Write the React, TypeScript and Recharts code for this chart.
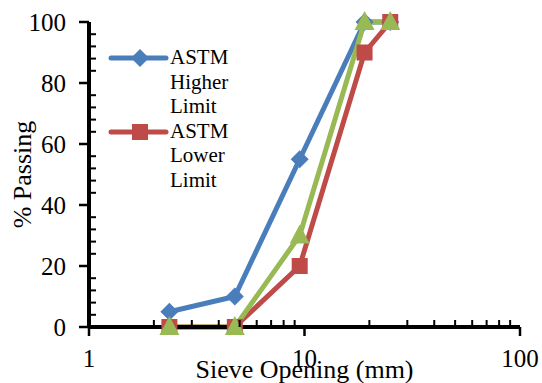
import { LineChart, Line, XAxis, YAxis, Legend } from "recharts";

const FONT = '"Liberation Serif", "Times New Roman", serif';

// sieve sizes (mm) and % passing
const sieveSizes = [2.36, 4.75, 9.5, 19, 25];
const higherLimit = [5, 10, 55, 100, 100];
const lowerLimit = [0, 0, 20, 90, 100];
const sampleGrading = [0, 0, 30, 100, 100];

const xTicks = [1, 2, 3, 4, 5, 6, 7, 8, 9, 10, 20, 30, 40, 50, 60, 70, 80, 90, 100];
const xLabelTicks = [1, 10, 100];
const yTicks = [0, 4, 8, 12, 16, 20, 24, 28, 32, 36, 40, 44, 48, 52, 56, 60, 64, 68, 72, 76, 80, 84, 88, 92, 96, 100];
const yLabelTicks = [0, 20, 40, 60, 80, 100];

const rows = sieveSizes.map((s, i) => ({
  sieve: s,
  higher: higherLimit[i],
  lower: lowerLimit[i],
  sample: sampleGrading[i],
}));

const BLUE = "#4A7EBB";
const RED = "#BE4B48";
const GREEN = "#98B954";

const marker = (kind: string, cx: number, cy: number, color: string) => {
  if (kind === "diamond")
    return <path d={`M${cx},${cy - 9}L${cx + 9},${cy}L${cx},${cy + 9}L${cx - 9},${cy}Z`} fill={color} />;
  if (kind === "square")
    return <rect x={cx - 8} y={cy - 8} width={16} height={16} fill={color} />;
  return <path d={`M${cx},${cy - 11}L${cx + 10},${cy + 8}L${cx - 10},${cy + 8}Z`} fill={color} />;
};

const dotFor = (kind: string, color: string) => (p: any) =>
  <g key={`${kind}-${p.index}`}>{marker(kind, p.cx, p.cy, color)}</g>;

const XTick = (p: any) => {
  const v = p.payload.value;
  if (xLabelTicks.includes(v)) {
    return (
      <g>
        <line x1={p.x} x2={p.x} y1={p.y} y2={p.y + 9} stroke="#000" strokeWidth={2.5} />
        <text x={p.x} y={p.y + 40} textAnchor="middle" fontSize={25} fontFamily={FONT} fill="#000">{v}</text>
      </g>
    );
  }
  return <line x1={p.x} x2={p.x} y1={p.y} y2={p.y - 7} stroke="#000" strokeWidth={2} />;
};

const YTick = (p: any) => {
  const v = p.payload.value;
  if (yLabelTicks.includes(v)) {
    return (
      <g>
        <line x1={p.x - 10} x2={p.x} y1={p.y} y2={p.y} stroke="#000" strokeWidth={2.5} />
        <text x={p.x - 23} y={p.y} dy="0.35em" textAnchor="end" fontSize={25} fontFamily={FONT} fill="#000">{v}</text>
      </g>
    );
  }
  return <line x1={p.x} x2={p.x + 7} y1={p.y} y2={p.y} stroke="#000" strokeWidth={2} />;
};

const markerKinds: Record<string, string> = { higher: "diamond", lower: "square" };

const LegendBox = ({ payload }: any) => (
  <div style={{ fontFamily: FONT, fontSize: 21, lineHeight: "24.5px", color: "#000" }}>
    {(payload || [])
      .filter((e: any) => markerKinds[e.dataKey])
      .map((e: any) => (
        <div key={e.dataKey} style={{ display: "flex", alignItems: "flex-start" }}>
          <svg width={62} height={25} style={{ flex: "none" }}>
            <line x1={3} x2={58} y1={13} y2={13} stroke={e.color} strokeWidth={5} strokeLinecap="round" />
            {marker(markerKinds[e.dataKey], 32, 13, e.color)}
          </svg>
          <div style={{ width: 64 }}>{e.value}</div>
        </div>
      ))}
  </div>
);

export default function App() {
  return (
    <div style={{ position: "absolute", left: 0, top: 0, background: "#fff" }}>
      <LineChart width={542} height={383} data={rows} margin={{ top: 22, right: 22, bottom: 0, left: 0 }}>
        <XAxis
          dataKey="sieve"
          type="number"
          scale="log"
          domain={[1, 100]}
          allowDataOverflow
          ticks={xTicks}
          interval={0}
          tick={XTick}
          tickLine={false}
          tickSize={0}
          tickMargin={0}
          height={56}
          axisLine={{ stroke: "#000", strokeWidth: 4 }}
          label={{
            content: ({ viewBox }: any) => (
              <text x={viewBox.x + viewBox.width / 2} y={viewBox.y + 51} textAnchor="middle" fontSize={26} fontFamily={FONT} fill="#000">
                Sieve Opening (mm)
              </text>
            ),
          }}
        />
        <XAxis xAxisId="top" orientation="top" type="number" domain={[0, 1]} height={0} tick={false} tickLine={false} axisLine={{ stroke: "#000", strokeWidth: 4 }} />
        <YAxis
          type="number"
          domain={[0, 100]}
          ticks={yTicks}
          interval={0}
          tick={YTick}
          tickLine={false}
          tickSize={0}
          tickMargin={0}
          width={89}
          axisLine={{ stroke: "#000", strokeWidth: 4 }}
          label={{
            content: ({ viewBox }: any) => {
              const x = viewBox.x + 22;
              const y = viewBox.y + viewBox.height / 2;
              return (
                <text x={x} y={y} transform={`rotate(-90 ${x} ${y})`} textAnchor="middle" dy="0.35em" fontSize={26} fontFamily={FONT} fill="#000">
                  % Passing
                </text>
              );
            },
          }}
        />
        <YAxis yAxisId="right" orientation="right" type="number" domain={[0, 1]} width={0} tick={false} tickLine={false} axisLine={{ stroke: "#000", strokeWidth: 4 }} />
        <Legend
          content={LegendBox}
          layout="vertical"
          align="center"
          verticalAlign="middle"
          wrapperStyle={{ position: "absolute", left: 108, top: 45, width: "auto", height: "auto" }}
        />
        <Line dataKey="higher" name="ASTM Higher Limit" stroke={BLUE} strokeWidth={5} strokeLinejoin="round" dot={dotFor("diamond", BLUE)} activeDot={false} isAnimationActive={false} />
        <Line dataKey="lower" name="ASTM Lower Limit" stroke={RED} strokeWidth={5} strokeLinejoin="round" dot={dotFor("square", RED)} activeDot={false} isAnimationActive={false} />
        <Line dataKey="sample" name="Sample" legendType="none" stroke={GREEN} strokeWidth={5} strokeLinejoin="round" dot={dotFor("triangle", GREEN)} activeDot={false} isAnimationActive={false} />
      </LineChart>
    </div>
  );
}
